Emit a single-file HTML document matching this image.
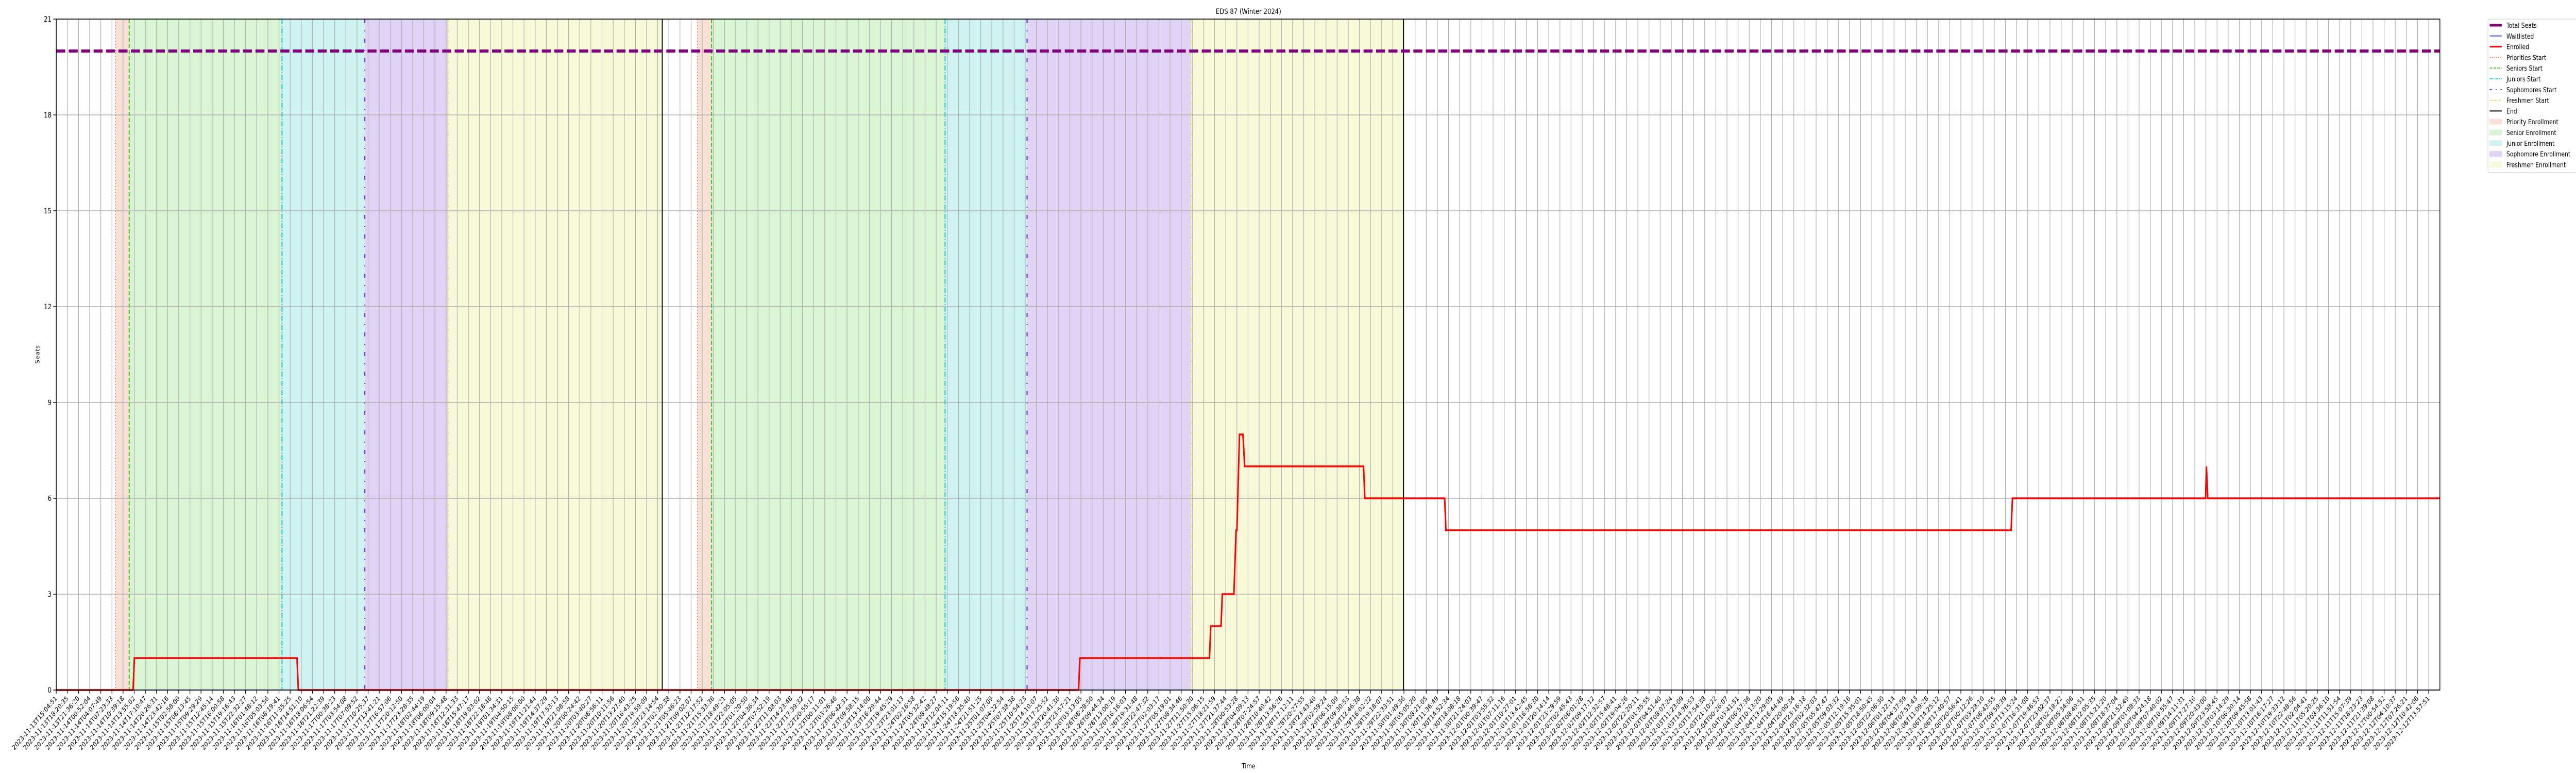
<!DOCTYPE html>
<html><head><meta charset="utf-8"><meta name="viewport" content="width=6000,height=1500"><title>EDS 87 (Winter 2024)</title>
<style>html,body{margin:0;padding:0;background:#fff;width:100%;height:100%;overflow:hidden}svg{display:block;position:absolute;left:0;top:0;width:100vw;height:100vh;overflow:hidden;font-family:"DejaVu Sans","Liberation Sans",sans-serif}</style>
</head><body>
<svg id="chart" viewBox="0 0 6000 1500" preserveAspectRatio="none" xmlns="http://www.w3.org/2000/svg">
<rect x="0" y="0" width="6000" height="1500" fill="#fff"/>
<g id="bands"></g>
<g id="grid"></g>
<g id="events"></g>
<g id="series"></g>
<g id="axes"></g>
<text x="2908" y="27" text-anchor="middle" font-size="14">EDS 87 (Winter 2024)</text>
<text x="2908" y="1491" text-anchor="middle" font-size="13">Time</text>
<text x="92" y="688" text-anchor="middle" font-size="13" transform="rotate(-90 92 688)">Seats</text>
<g id="legend"></g>
</svg>
<script>
// ---- data ----
const totalSeats = 20;
const enrolledTimes = ["2023-11-13T15:04:51","2023-11-14T13:35:00","2023-11-14T13:58:00","2023-11-16T13:36:00","2023-11-16T13:59:00","2023-11-26T02:31:00","2023-11-26T02:54:00","2023-11-27T16:51:00","2023-11-27T17:14:00","2023-11-27T20:15:00","2023-11-27T20:37:00","2023-11-28T00:01:00","2023-11-28T00:39:00","2023-11-28T00:54:00","2023-11-28T01:39:00","2023-11-28T02:40:00","2023-11-28T03:10:00","2023-11-29T13:59:00","2023-11-29T14:22:00","2023-11-30T13:45:00","2023-11-30T14:07:00","2023-12-07T11:40:00","2023-12-07T12:03:00","2023-12-09T20:37:00","2023-12-09T20:52:00","2023-12-09T21:15:00","2023-12-12T17:15:00"];
const enrolledValues = [0,0,1,1,0,0,1,1,2,2,3,3,5,5,8,8,7,7,6,6,5,5,6,6,7,6,6];
const waitlistTimes = ["2023-11-13T15:04:51","2023-12-12T17:15:00"];
const waitlistValues = [0,0];
const priorityStarts = ["2023-11-14T08:26:00","2023-11-21T10:53:00"];
const seniorStarts = ["2023-11-14T12:27:00","2023-11-21T15:02:00"];
const juniorStarts = ["2023-11-16T09:12:00","2023-11-24T11:25:00"];
const sophomoreStarts = ["2023-11-17T09:28:00","2023-11-25T11:26:00"];
const freshmenStarts = ["2023-11-18T09:51:00","2023-11-27T11:27:00"];
const endTimes = ["2023-11-21T00:35:00","2023-11-30T01:40:00"];
const firstTick = "2023-11-13T15:04:51";
const lastTick = "2023-12-12T13:57:51";
const tickCount = 214;
const yTicks = [0,3,6,9,12,15,18,21];

// ---- scales ----
const L=131,R=5683,T=37,B=1339;
const xMin=Date.parse(firstTick+"Z"), xMax=Date.parse("2023-12-12T17:15:00Z");
const yMin=0,yMax=21;
function X(t){return L+(Date.parse(t+"Z")-xMin)/(xMax-xMin)*(R-L);}
function Xn(ms){return L+(ms-xMin)/(xMax-xMin)*(R-L);}
function Y(v){return B-(v-yMin)/(yMax-yMin)*(B-T);}
const NS="http://www.w3.org/2000/svg";
function mk(tag,attrs,parent){const e=document.createElementNS(NS,tag);for(const k in attrs)e.setAttribute(k,attrs[k]);parent.appendChild(e);return e;}
const bands=document.getElementById('bands'),grid=document.getElementById('grid'),events=document.getElementById('events'),series=document.getElementById('series'),axes=document.getElementById('axes'),legend=document.getElementById('legend');

// bands
const bandDefs=[[priorityStarts,seniorStarts,'#f8e0d6','priority-enrollment-band'],[seniorStarts,juniorStarts,'#daf5d3','senior-enrollment-band'],[juniorStarts,sophomoreStarts,'#cff2f3','junior-enrollment-band'],[sophomoreStarts,freshmenStarts,'#e1d3f5','sophomore-enrollment-band'],[freshmenStarts,endTimes,'#f8f9d8','freshmen-enrollment-band']];
bandDefs.forEach(d=>{for(let i=0;i<d[0].length;i++){const x1=X(d[0][i]),x2=X(d[1][i]);
const r=mk('rect',{x:x1,y:T,width:x2-x1,height:B-T,fill:d[2]},bands);

}});

// ticks
const t0=Date.parse(firstTick+"Z"),t1=Date.parse(lastTick+"Z");
const tickMs=[];for(let i=0;i<tickCount;i++)tickMs.push(Math.round(t0+(t1-t0)*i/(tickCount-1)));
function fmt(ms){return new Date(ms).toISOString().slice(0,19);}
tickMs.forEach(ms=>{const x=Xn(ms);
const g=mk('line',{x1:x,x2:x,y1:T,y2:B,stroke:'#b0b0b0','stroke-width':1.4},grid);


const tk=mk('line',{x1:x,x2:x,y1:B,y2:B+7,stroke:'#000','stroke-width':1.4},axes);


const tx=mk('text',{x:x+3,y:B+17,'text-anchor':'end','font-size':13,transform:`rotate(-45 ${x+3} ${B+17})`},axes);
tx.textContent=fmt(ms);

});
yTicks.forEach(v=>{const y=Y(v);
const g=mk('line',{x1:L,x2:R,y1:y,y2:y,stroke:'#b0b0b0','stroke-width':1.4},grid);


const tk=mk('line',{x1:L-7,x2:L,y1:y,y2:y,stroke:'#000','stroke-width':1.4},axes);


const tx=mk('text',{x:L-11,y:y+5,'text-anchor':'end','font-size':14},axes);
tx.textContent=v;

});

// event lines
const evDefs=[[priorityStarts,'#ee7733','2,4',2,'priorities-start-line'],[seniorStarts,'#33cc11','8,4',2.4,'seniors-start-line'],[juniorStarts,'#11c8d6','10,3,2,3',2.4,'juniors-start-line'],[sophomoreStarts,'#6622cc','8,14,2,14',2.4,'sophomores-start-line'],[freshmenStarts,'#dddd22','7,3,2,3,2,3',1.5,'freshmen-start-line'],[endTimes,'#000','',2.2,'end-line']];
evDefs.forEach(d=>d[0].forEach(t=>{const x=X(t);
const a={x1:x,x2:x,y1:T,y2:B,stroke:d[1],'stroke-width':d[3]};if(d[2])a['stroke-dasharray']=d[2];
const l=mk('line',a,events);

}));

// series
const ts=mk('line',{x1:L,x2:R,y1:Y(totalSeats),y2:Y(totalSeats),stroke:'#800080','stroke-width':6,'stroke-dasharray':'21,8'},series);


const wl=mk('polyline',{points:waitlistTimes.map((t,i)=>X(t)+','+Y(waitlistValues[i])).join(' '),fill:'none',stroke:'#0000ff','stroke-width':1.6},series);


const en=mk('polyline',{points:enrolledTimes.map((t,i)=>X(t)+','+Y(enrolledValues[i])).join(' '),fill:'none',stroke:'#ff0000','stroke-width':3.6,'stroke-linejoin':'miter'},series);



// spines
const sp=mk('rect',{x:L,y:T,width:R-L,height:B-T,fill:'none',stroke:'#000','stroke-width':1.6},axes);



// legend
const lb=mk('rect',{x:5795,y:37,width:210,height:298,rx:3,fill:'#fff',stroke:'#d0d0d0','stroke-width':1.2},legend);


const legItems=[['Total Seats','line','#800080',5,''],['Waitlisted','line','#0000ff',1.5,''],['Enrolled','line','#ff0000',3,''],['Priorities Start','line','#ee7733',1.5,'2,3'],['Seniors Start','line','#33cc11',1.8,'6,3'],['Juniors Start','line','#11c8d6',1.8,'7,2,2,2'],['Sophomores Start','line','#6622cc',1.8,'5,9,2,9'],['Freshmen Start','line','#dddd22',1.5,'5,2,2,2'],['End','line','#000',2,''],['Priority Enrollment','patch','#f8e0d6'],['Senior Enrollment','patch','#daf5d3'],['Junior Enrollment','patch','#cff2f3'],['Sophomore Enrollment','patch','#e1d3f5'],['Freshmen Enrollment','patch','#f8f9d8']];
legItems.forEach((it,i)=>{const cy=49+i*20.8;
const g=mk('g',{},legend);


if(it[1]==='line'){const a={x1:5799,x2:5827,y1:cy,y2:cy,stroke:it[2],'stroke-width':it[3]};if(it[4])a['stroke-dasharray']=it[4];mk('line',a,g);}
else{mk('rect',{x:5799,y:cy-5,width:28,height:10,fill:it[2],stroke:it[2]},g);}
const tx=mk('text',{x:5838,y:cy+5,'font-size':13},g);tx.textContent=it[0];});
</script>
</body></html>
